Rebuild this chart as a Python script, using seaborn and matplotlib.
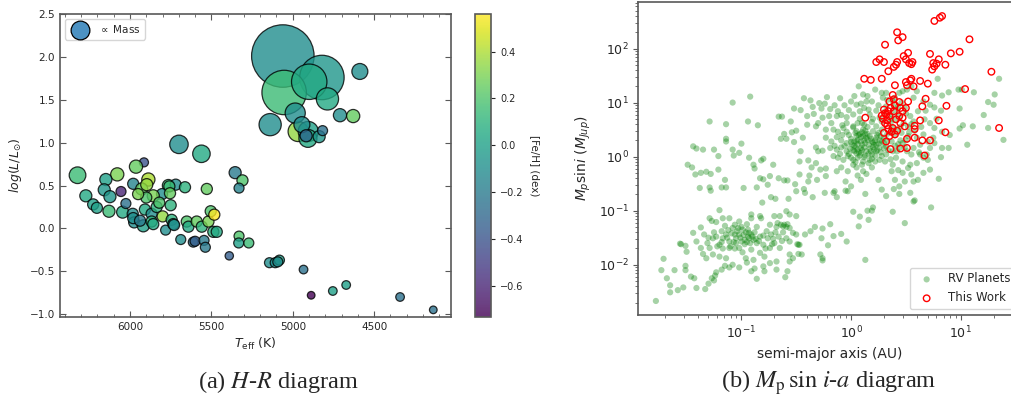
import numpy as np
import pandas as pd
import seaborn as sns
import matplotlib.pyplot as plt
from matplotlib.lines import Line2D
from matplotlib.ticker import MultipleLocator
from matplotlib.colors import to_rgba

# ---- (a) H-R diagram: host stars ----
teff = [5061, 4821, 5053, 4899, 4787, 5139, 4967, 4905, 4985, 4907, 4944, 4588, 4710, 4629, 4838, 4918, 4817,
        6322, 5699, 5561, 5914, 5963, 6078, 6148, 5887, 5528, 6271, 6158, 6055, 5980, 5764, 5719, 5662,
        6226, 6203, 6123, 6129, 6045, 6025, 5983, 5974, 5980, 5918, 5938, 5908, 5867, 5867, 5857, 5836,
        5803, 5799, 5781, 5750, 5744, 5734, 5729, 5688, 5651, 5641, 5611, 5600, 5590, 5559, 5545, 5537,
        5518, 5504, 5482, 5488, 5467, 5390, 5330, 5332, 5270, 5354, 5309, 5330, 5928, 5897, 5857, 5758,
        5754, 5900, 5950, 5820, 5143, 5108, 5082, 5092, 4934, 4887, 4754, 4672, 4341, 4137]
log_lum = [2.01, 1.76, 1.585, 1.71, 1.51, 1.21, 1.13, 1.13, 1.345, 1.05, 1.21, 1.83, 1.32, 1.31, 1.07, 1.08, 1.14,
           0.62, 0.98, 0.87, 0.77, 0.72, 0.63, 0.57, 0.57, 0.46, 0.38, 0.45, 0.43, 0.52, 0.50, 0.51, 0.48,
           0.28, 0.24, 0.37, 0.20, 0.19, 0.29, 0.17, 0.07, 0.12, 0.03, 0.09, 0.22, 0.17, 0.08, 0.05, 0.25,
           0.40, 0.14, -0.02, 0.27, 0.10, 0.05, 0.04, -0.13, 0.08, 0.02, -0.16, -0.15, 0.08, 0.02, -0.14, -0.22,
           0.08, 0.20, 0.16, -0.04, -0.04, -0.32, -0.09, -0.17, -0.17, 0.65, 0.56, 0.47, 0.46, 0.51, 0.38, 0.49,
           0.41, 0.36, 0.40, 0.30, -0.40, -0.40, -0.37, -0.39, -0.48, -0.78, -0.73, -0.66, -0.80, -0.95]
feh = [-0.10, -0.05, 0.15, 0.05, 0.05, -0.10, 0.35, 0.00, -0.10, 0.05, -0.10, -0.10, -0.10, 0.25, -0.05, -0.30, -0.25,
       0.15, -0.10, 0.05, -0.40, 0.25, 0.30, 0.00, 0.40, 0.25, 0.05, -0.05, -0.60, -0.15, 0.15, -0.10, 0.10,
       0.00, 0.00, -0.05, 0.15, 0.05, -0.25, -0.10, -0.10, -0.10, 0.00, -0.20, 0.05, -0.10, 0.10, 0.05, 0.10,
       -0.10, 0.35, -0.10, 0.10, 0.10, 0.00, -0.10, -0.10, 0.20, 0.05, -0.25, -0.35, 0.25, 0.10, -0.20, -0.20,
       0.30, 0.20, 0.56, 0.10, 0.05, -0.35, 0.20, 0.00, 0.15, -0.20, 0.20, -0.15, 0.25, 0.35, 0.30, 0.15,
       0.25, 0.20, 0.30, 0.20, -0.10, -0.10, 0.00, -0.10, -0.25, -0.73, 0.00, 0.00, -0.25, -0.25]
mass = [4.5, 3.2, 3.2, 2.55, 1.6, 1.6, 1.45, 1.45, 1.45, 1.3, 1.15, 1.15, 0.95, 0.95, 0.87, 0.87, 0.72,
        1.2, 1.33, 1.26, 0.65, 0.95, 0.95, 0.87, 0.95, 0.8, 0.87, 0.87, 0.72, 0.8, 0.87, 0.8, 0.8,
        0.8, 0.8, 0.87, 0.87, 0.87, 0.72, 0.8, 0.8, 0.8, 0.87, 0.8, 0.8, 0.8, 0.8, 0.8, 0.8,
        0.8, 0.8, 0.72, 0.8, 0.8, 0.8, 0.8, 0.72, 0.8, 0.8, 0.72, 0.72, 0.8, 0.8, 0.72, 0.72,
        0.8, 0.8, 0.8, 0.8, 0.8, 0.6, 0.72, 0.72, 0.72, 0.87, 0.8, 0.72, 0.87, 0.87, 0.87, 0.8,
        0.8, 0.8, 0.8, 0.8, 0.72, 0.72, 0.72, 0.72, 0.62, 0.55, 0.62, 0.62, 0.62, 0.55]

# ---- (b) Msini - a diagram (log10 of a [AU] and log10 of Msini [MJup]) ----
rv_pts = [
    # short-period low-mass planets
    (-1.78, -2.67), (-1.71, -1.89), (-1.73, -2.10), (-1.61, -2.10), (-1.68, -2.25), (-1.65, -2.38), (-1.65, -2.51),
    (-1.58, -2.47), (-1.53, -2.42), (-1.51, -2.02), (-1.51, -2.10), (-1.46, -2.22), (-1.43, -2.25), (-1.41, -2.43),
    (-1.33, -2.45), (-1.30, -2.35), (-1.27, -2.25), (-1.24, -2.20), (-1.25, -2.29), (-1.23, -2.14), (-1.18, -2.09),
    (-1.15, -2.02), (-1.11, -2.05), (-1.08, -2.00), (-1.02, -2.05), (-0.95, -1.96), (-0.91, -2.12), (-0.88, -2.07),
    (-0.86, -2.26), (-0.80, -2.03), (-0.79, -2.12), (-0.74, -1.97), (-0.68, -2.09), (-0.68, -1.94), (-0.60, -2.23),
    (-0.58, -2.12), (-0.56, -1.94), (-0.53, -1.88), (-1.56, -1.61), (-1.55, -1.62), (-1.51, -1.65), (-1.50, -1.76),
    (-1.49, -0.15),
    (-1.20, -0.99), (-1.29, -1.14), (-1.27, -1.19), (-1.23, -1.21), (-1.37, -1.31), (-1.44, -1.41), (-1.41, -1.57),
    (-1.34, -1.44), (-1.37, -1.69), (-1.31, -1.60), (-1.26, -1.51), (-1.23, -1.48), (-1.18, -1.38), (-1.17, -1.51),
    (-1.14, -1.44), (-1.17, -1.14), (-1.11, -1.14), (-1.11, -1.57), (-1.06, -1.26), (-1.08, -1.32), (-1.03, -1.32),
    (-1.02, -1.44), (-1.05, -1.60), (-0.99, -1.35), (-0.94, -1.35), (-0.91, -1.44), (-0.93, -1.51), (-0.97, -1.54),
    (-1.00, -1.57), (-0.91, -1.07), (-0.83, -1.10), (-0.91, -1.14), (-0.82, -1.14), (-0.86, -1.60), (-0.83, -1.48),
    (-0.76, -1.51), (-0.73, -1.44), (-0.74, -1.26), (-0.70, -1.10), (-0.65, -1.10), (-0.67, -1.23), (-0.64, -1.26),
    (-0.61, -1.26), (-0.59, -1.30), (-0.56, -1.32), (-0.59, -1.01), (-0.56, -1.07), (-0.50, -1.10), (-0.53, -1.41),
    (-0.50, -1.44), (-0.48, -1.63), (-0.56, -1.57), (-0.59, -1.51), (-0.65, -1.69), (-0.70, -1.60), (-0.74, -1.69),
    (-0.80, -1.63), (-0.83, -1.78), (-0.79, -1.85), (-0.89, -1.91), (-0.96, -1.88), (-1.14, -1.88), (-1.20, -1.85),
    (-1.26, -1.81), (-1.32, -1.88), (-1.35, -1.80), (-1.29, -1.69), (-1.20, -1.63), (-1.17, -1.70), (-1.11, -1.69),
    (-1.06, -1.70), (-1.02, -1.69), (-0.99, -1.77), (-0.91, -1.72), (-0.56, -1.81), (-0.48, -1.80), (-0.94, -1.48),
    (-0.89, -1.54), (-0.93, -1.41), (-0.62, -1.29), (-0.58, -1.25), (-1.10, -1.66), (-1.05, -1.51),
    (-1.09, -1.42), (-1.04, -1.38), (-0.98, -1.45), (-0.96, -1.40), (-1.01, -1.50), (-0.95, -1.58), (-0.90, -1.48),
    (-0.87, -1.52), (-1.13, -1.50), (-1.07, -1.58), (-0.71, -1.52), (-0.66, -1.48), (-0.63, -1.56), (-0.69, -1.40),
    (-0.77, -1.38),
    (-1.15, -1.28), (-1.12, -1.36), (-1.06, -1.44), (-1.00, -1.30), (-0.97, -1.62), (-0.92, -1.60), (-0.88, -1.40),
    (-0.84, -1.56), (-0.80, -1.46), (-0.78, -1.70), (-1.18, -1.58), (-1.22, -1.66), (-1.25, -1.40), (-1.30, -1.50),
    (-0.72, -1.62), (-0.68, -1.30), (-0.62, -1.40), (-0.95, -1.25), (-1.02, -1.20), (-0.86, -1.30),
    (0.02, -1.02), (0.08, -1.11), (0.15, -1.00), (0.20, -0.94), (0.19, -1.00), (0.16, -1.17), (0.07, -1.29),
    (-0.09, -1.43), (-0.16, -1.47), (-0.04, -1.57), (-0.21, -1.64), (-0.27, -1.51), (-0.19, -1.25), (-0.26, -1.33),
    (-0.33, -1.30), (-0.37, -1.38), (-0.42, -1.44), (-0.47, -1.63), (-0.49, -1.62), (-0.45, -1.81), (-0.28, -1.81),
    (-0.26, -1.88), (-0.26, -1.92), (0.13, -1.91), (-0.15, -0.64), (-0.03, -0.64),
    # intermediate masses
    (-1.45, -0.20), (-1.42, -0.33), (-1.37, -0.30), (-1.32, -0.28), (-1.28, -0.32), (-1.38, -0.58), (-1.29, -0.57),
    (-1.28, -0.63), (-1.18, -0.57), (-1.14, -0.57), (-1.15, -0.43), (-1.21, -0.24), (-0.98, -0.58), (-0.83, -0.40),
    (-0.80, -0.42), (-0.74, -0.36), (-0.76, -0.52), (-0.86, -0.57), (-0.81, -0.85), (-0.73, -0.75), (-0.69, -0.78),
    (-0.66, -0.40), (-0.61, -0.44), (-0.58, -0.44), (-0.57, -0.78), (-0.51, -0.51), (-0.50, -0.64), (-0.47, -0.33),
    (-0.43, -0.60), (-0.42, -0.67), (-0.39, -0.46), (-0.38, -0.35), (-0.31, -0.43), (-0.28, -0.24), (-0.23, -0.22),
    (-0.23, -0.36), (-0.35, -0.75), (-0.24, -0.67), (-0.16, -0.67), (-0.13, -0.75), (-0.05, -0.63), (-0.05, -0.46),
    (-0.03, -0.27), (0.05, -0.20), (0.11, -0.27), (0.14, -0.32), (0.19, -0.20), (0.09, -0.43), (0.13, -0.69),
    (0.25, -0.43), (0.28, -0.61), (0.32, -0.73), (0.02, -0.15), (0.06, -0.35), (0.00, -0.55), (-0.13, -0.27),
    (-0.09, -0.20), (-0.32, -0.12), (-0.36, -0.20),
    # giant planets
    (-1.44, 0.19), (-1.41, 0.15), (-1.35, 0.13), (-1.25, 0.13), (-1.14, 0.33), (-1.14, 0.28), (-1.00, 0.24),
    (-1.08, 0.13), (-1.02, 0.07), (-1.07, 0.02), (-1.21, 0.01), (-0.93, -0.02), (-0.82, -0.07), (-0.80, -0.04),
    (-0.88, -0.22), (-0.89, -0.15), (-0.71, -0.15), (-0.61, 0.42), (-0.64, 0.33), (-0.59, 0.33), (-0.54, 0.45),
    (-0.50, 0.48), (-0.52, 0.27), (-0.44, 0.35), (-0.46, 0.10), (-0.47, -0.09), (-0.39, -0.07), (-0.32, 0.17),
    (-0.30, 0.10), (-0.26, 0.11), (-0.23, 0.50), (-0.16, 0.50), (-0.12, 0.46), (-0.07, 0.53), (-0.04, 0.46),
    (0.02, 0.54), (0.05, 0.47), (0.08, 0.42), (0.11, 0.38), (0.17, 0.38), (0.20, 0.47), (0.25, 0.44), (0.28, 0.50),
    (-0.23, 0.35), (-0.18, 0.28), (-0.13, 0.36), (-0.09, 0.30), (-0.04, 0.25), (0.00, 0.33), (0.03, 0.28),
    (0.06, 0.23), (0.09, 0.28), (0.13, 0.25), (0.19, 0.28), (0.23, 0.22), (0.28, 0.28), (0.32, 0.19),
    (-0.19, 0.16), (-0.13, 0.13), (-0.09, 0.17), (-0.04, 0.10), (-0.01, 0.15), (0.03, 0.10), (0.06, 0.13),
    (0.09, 0.07), (0.14, 0.10), (0.19, 0.04), (0.23, 0.10), (0.28, 0.01), (0.32, 0.04), (-0.16, 0.01),
    (-0.12, -0.02), (-0.07, -0.06), (-0.03, 0.01), (0.02, -0.06), (0.06, -0.02), (0.11, -0.09), (0.17, -0.06),
    (0.22, -0.09), (0.26, -0.06), (0.31, -0.09), (0.05, 0.38), (0.06, 0.31), (0.09, 0.36), (0.10, 0.22),
    (0.12, 0.17), (0.16, 0.22), (0.17, 0.15), (0.08, 0.02), (0.12, -0.01), (0.04, 0.17), (0.01, 0.22),
    (0.14, 0.35), (0.21, 0.13), (0.19, -0.04), (0.23, 0.35),
    (0.04, 0.44), (0.07, 0.40), (0.10, 0.45), (0.13, 0.41), (0.15, 0.31), (0.18, 0.33), (0.20, 0.26),
    (0.22, 0.30), (0.25, 0.24), (0.26, 0.17), (0.24, 0.12), (0.20, 0.18), (0.16, 0.05), (0.13, 0.02),
    (0.10, 0.12), (0.07, 0.08), (0.05, 0.06), (0.03, 0.20), (0.00, 0.27), (-0.02, 0.40), (0.30, 0.35),
    (0.33, 0.30), (0.34, 0.12), (0.30, 0.15), (0.27, 0.38), (0.11, 0.50), (0.15, 0.55), (-0.08, 0.40),
    (-0.15, 0.20), (-0.10, 0.05),
    (0.02, 0.12), (0.05, 0.28), (0.09, 0.16), (0.12, 0.30), (0.15, 0.42), (0.18, 0.10), (0.21, 0.22),
    (0.24, 0.40), (0.27, 0.08), (0.30, 0.25), (0.33, 0.42), (-0.02, 0.05), (0.00, -0.02), (0.04, -0.10),
    (0.10, -0.15), (0.16, -0.12), (0.22, 0.02), (0.26, 0.30), (-0.06, 0.20), (0.13, 0.48),
    (-0.92, 1.11), (-1.08, 1.00), (-1.29, 0.65), (-1.14, 0.60), (-0.94, 0.65), (-0.85, 0.58), (-0.66, 0.74),
    (-0.63, 0.74), (-0.43, 1.08), (-0.37, 1.04), (-0.29, 0.99), (-0.24, 0.98), (-0.46, 0.86), (-0.52, 0.89),
    (-0.34, 0.79), (-0.27, 0.89), (-0.19, 0.88), (-0.12, 0.84), (-0.06, 0.95), (0.00, 1.02), (0.05, 0.96),
    (0.09, 0.98), (0.14, 1.02), (0.19, 1.02), (0.22, 1.24), (0.11, 1.15), (0.07, 1.30), (0.28, 1.18),
    (0.29, 1.09), (0.32, 1.18), (-0.13, 0.75), (-0.09, 0.77), (-0.04, 0.73), (0.02, 0.78), (0.08, 0.84),
    (0.16, 0.87), (0.23, 0.85), (0.32, 0.93), (-0.20, 0.75), (-0.26, 0.72), (-0.30, 0.62), (-0.40, 0.59),
    (-0.32, 0.56), (-0.04, 0.62), (0.02, 0.56), (0.06, 0.62), (0.12, 0.59), (0.19, 0.64), (0.23, 0.56),
    (0.28, 0.65),
    (-0.35, 0.92), (-0.22, 1.10), (-0.15, 0.95), (-0.10, 1.08), (0.03, 1.12), (0.12, 0.90), (0.17, 0.78),
    (0.25, 0.95), (0.26, 0.72), (0.20, 0.70), (0.08, 0.70), (-0.02, 0.86), (-0.18, 0.62), (-0.08, 0.58),
    (0.30, 0.82), (0.10, 0.62), (-0.40, 0.75), (-0.55, 0.65), (0.15, 1.12), (0.33, 1.05),
    # wide orbits
    (0.79, 1.44), (0.76, 1.18), (0.83, 1.13), (0.89, 1.19), (0.98, 1.24), (1.01, 1.24), (1.12, 1.19),
    (1.35, 1.44), (1.31, 1.15), (1.25, 1.01), (1.30, 0.96), (1.21, 0.77), (0.99, 0.89), (0.82, 0.85),
    (0.76, 0.91), (0.72, 0.96), (0.57, 1.09), (0.51, 1.24), (0.44, 1.18), (0.47, 1.21), (0.40, 1.09),
    (0.55, 1.30), (0.60, 1.21), (0.66, 1.02), (0.61, 0.84), (0.54, 0.75), (0.57, 0.65), (0.67, 0.69),
    (0.72, 0.62), (0.76, 0.53), (0.83, 0.46), (0.75, 0.35), (0.66, 0.41), (0.70, 0.28), (0.63, 0.22),
    (0.57, 0.16), (0.51, 0.10), (0.44, 0.16), (0.38, 0.10), (0.41, -0.02), (0.47, -0.09), (0.54, -0.15),
    (0.60, -0.12), (0.66, -0.02), (0.70, -0.06), (0.63, 0.04), (0.69, 0.04), (0.72, 0.16), (0.76, 0.25),
    (0.83, 0.16), (0.89, 0.16), (0.82, -0.01), (0.99, 0.52), (1.02, 0.58), (1.11, 0.56), (1.25, 0.53),
    (1.06, 0.22), (1.39, 0.31), (0.72, -0.24), (0.66, -0.30), (0.61, -0.43), (0.57, -0.46), (0.49, -0.46),
    (0.44, -0.55), (0.40, -0.43), (0.44, -0.69), (0.54, -0.67), (0.57, -0.83), (0.58, -0.81), (0.80, -0.41),
    (0.73, -0.94), (0.38, -1.02), (0.49, -1.23), (0.37, -0.27), (0.38, 1.02), (0.43, 0.93), (0.49, 0.90),
    (0.37, 0.78), (0.44, 0.75), (0.38, 0.53), (0.46, 0.44), (0.52, 0.38), (0.37, 0.28), (0.43, 0.23),
    (0.49, 0.17), (0.55, 0.04), (0.38, -0.15), (0.52, -0.21), (0.55, -0.33), (0.47, -0.30),
    (0.36, 0.62), (0.40, 0.68), (0.42, 0.50), (0.45, 0.30), (0.40, 0.20), (0.36, 0.45), (0.48, 0.62),
    (0.41, 0.85), (0.46, 1.00), (0.52, 0.55), (0.36, -0.05), (0.43, -0.25), (0.39, -0.60), (0.50, 0.30),
    (0.58, 0.48),
    (0.36, 0.70), (0.40, 0.40), (0.45, 0.55), (0.50, 0.80), (0.55, 0.60), (0.60, 0.35), (0.64, 0.55),
    (0.68, 0.85), (0.42, 0.10), (0.47, 0.25), (0.53, 0.45), (0.39, 0.92), (0.62, 0.08), (0.78, 0.70),
    (0.90, 0.40),
]
this_work_pts = [
    (0.76, 2.51), (0.81, 2.57), (0.83, 2.60), (0.42, 2.30), (0.43, 2.15), (0.47, 2.21), (0.31, 2.07),
    (1.08, 2.17), (0.23, 1.75), (0.26, 1.80), (0.30, 1.75), (0.34, 1.58), (0.39, 1.66), (0.42, 1.75),
    (0.41, 1.70), (0.48, 1.86), (0.52, 1.92), (0.50, 1.80), (0.53, 1.73), (0.56, 1.75), (0.55, 1.71),
    (0.72, 1.90), (0.75, 1.73), (0.78, 1.72), (0.76, 1.67), (0.74, 1.61), (0.80, 1.80), (0.86, 1.70),
    (0.91, 1.91), (0.99, 1.94), (1.28, 1.57), (1.35, 0.53), (0.12, 1.44), (0.18, 1.42), (0.28, 1.44),
    (0.40, 1.32), (0.50, 1.38), (0.54, 1.41), (0.51, 1.32), (0.57, 1.30), (0.55, 1.44), (0.63, 1.40),
    (0.70, 1.35), (1.04, 1.25), (0.38, 1.14), (0.39, 1.06), (0.35, 1.02), (0.44, 1.01), (0.52, 1.02),
    (0.50, 0.90), (0.68, 1.07), (0.65, 0.93), (0.87, 0.94), (0.13, 0.72), (0.30, 0.87), (0.34, 0.84),
    (0.32, 0.78), (0.35, 0.75), (0.29, 0.70), (0.33, 0.67), (0.31, 0.62), (0.39, 0.84), (0.41, 0.69),
    (0.44, 0.75), (0.45, 0.62), (0.47, 0.84), (0.49, 0.56), (0.34, 0.51), (0.38, 0.53), (0.40, 0.41),
    (0.35, 0.38), (0.32, 0.28), (0.36, 0.14), (0.58, 0.57), (0.58, 0.51), (0.63, 0.67), (0.80, 0.67),
    (0.86, 0.45), (0.51, 0.33), (0.58, 0.35), (0.65, 0.30), (0.72, 0.30), (0.45, 0.15), (0.51, 0.16),
    (0.67, 0.02), (0.31, 0.80), (0.36, 0.90), (0.28, 0.76), (0.33, 0.58), (0.37, 0.46), (0.42, 0.48),
    (0.30, 0.44), (0.40, 0.95), (0.45, 0.90), (0.47, 0.72),
]

stars = pd.DataFrame({"teff": teff, "logL": log_lum, "feh": feh, "mass": mass})
rv = pd.DataFrame(rv_pts, columns=["log_a", "log_m"])
tw = pd.DataFrame(this_work_pts, columns=["log_a", "log_m"])

sns.set_style("ticks")
plt.rcParams["font.family"] = ["DejaVu Sans"]
plt.rcParams["axes.edgecolor"] = "0.35"
plt.rcParams["axes.linewidth"] = 1.2

fig = plt.figure(figsize=(10.11, 3.96), dpi=100)
ax1 = fig.add_axes([0.0593, 0.2002, 0.3865, 0.7644])
cax = fig.add_axes([0.4698, 0.2002, 0.0158, 0.7644])
ax2 = fig.add_axes([0.6314, 0.2045, 0.3785, 0.7904])

# left panel
sns.scatterplot(x=stars["teff"], y=stars["logL"], c=stars["feh"], cmap="viridis",
                s=100 * stars["mass"] ** 2, alpha=0.8, edgecolor="black", linewidth=0.9, ax=ax1)
sc = ax1.collections[-1]
ax1.set_xlim(6430, 4030)
ax1.set_ylim(-1.03, 2.5)
ax1.xaxis.set_major_locator(MultipleLocator(500))
ax1.xaxis.set_minor_locator(MultipleLocator(100))
ax1.yaxis.set_major_locator(MultipleLocator(0.5))
ax1.tick_params(which="both", direction="in", top=True, right=True, labelsize=7.5, color="0.35")
ax1.tick_params(which="major", length=4)
ax1.tick_params(which="minor", length=2)
ax1.set_xlabel(r"$T_{\rm eff}$ (K)", fontsize=9, labelpad=3)
ax1.set_ylabel(r"$log(L/L_{\odot})$", fontsize=9, labelpad=4)

mass_handle = Line2D([], [], ls="", marker="o", markersize=13.5,
                     markerfacecolor=to_rgba("C0", 0.8), markeredgecolor="black", markeredgewidth=0.9)
ax1.legend(handles=[mass_handle], labels=[r"$\propto$ Mass"], loc="upper left", fontsize=7.5)

cb = fig.colorbar(sc, cax=cax)
cb.ax.tick_params(labelsize=7, length=3)
cb.outline.set_edgecolor("0.35")
cb.set_label("[Fe/H] (dex)", rotation=270, fontsize=7.5, labelpad=12)

# right panel
sns.scatterplot(x=10 ** rv["log_a"], y=10 ** rv["log_m"], color="green", alpha=0.35, s=20,
                edgecolor="none", linewidth=0, label="RV Planets", ax=ax2)
sns.scatterplot(x=10 ** tw["log_a"], y=10 ** tw["log_m"], facecolor="none", edgecolor="red",
                s=22, linewidth=1.0, label="This Work", ax=ax2)
ax2.set_xscale("log")
ax2.set_yscale("log")
ax2.set_xlim(10 ** -1.94, 10 ** 1.55)
ax2.set_ylim(10 ** -2.93, 10 ** 2.86)
ax2.tick_params(which="both", labelsize=9, color="0.35")
ax2.set_xlabel("semi-major axis (AU)", fontsize=10)
ax2.set_ylabel(r"$M_p$sin$i$ $(M_{Jup})$", fontsize=10)
ax2.legend(loc="lower right", fontsize=8.5)

# captions
fig.text(0.275, 0.035, r"(a) $H$-$R$ diagram", ha="center", va="center", fontsize=17.5,
         family="Liberation Serif", math_fontfamily="stix")
fig.text(0.820, 0.035, r"(b) $M_{\rm p}\,\sin\,i$-$a$ diagram", ha="center", va="center", fontsize=17.5,
         family="Liberation Serif", math_fontfamily="stix")

fig.savefig("out.png", dpi=100)
